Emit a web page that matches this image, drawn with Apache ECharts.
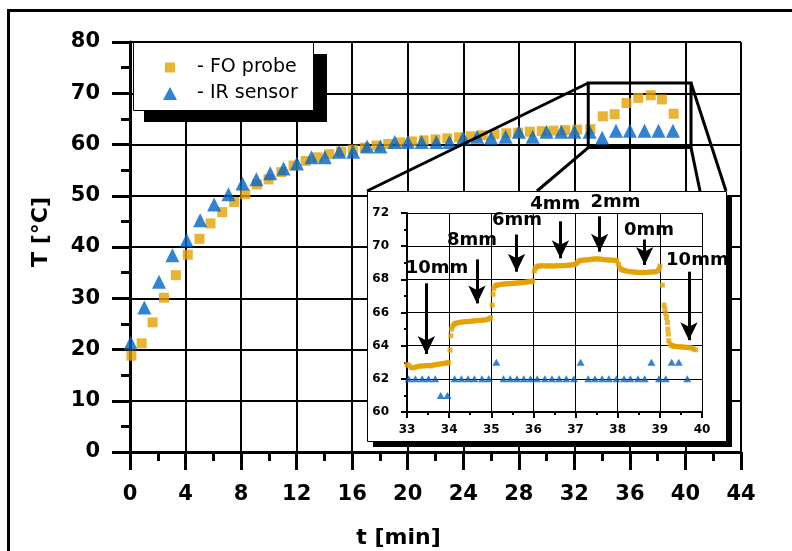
<!DOCTYPE html>
<html>
<head>
<meta charset="utf-8">
<script src="https://cdn.jsdelivr.net/npm/echarts@6/dist/echarts.min.js"></script>
<style>
  html, body { margin: 0; padding: 0; background: #fff; }
  #chart { width: 792px; height: 551px; }
</style>
</head>
<body>
<div id="chart"></div>
<script>
// ---- Heating curve, 0–40 min: fibre-optic probe vs. infrared sensor ----
const foTime = [0.10, 0.84, 1.63, 2.45, 3.30, 4.16, 5.00, 5.80, 6.64, 7.50, 8.30, 9.14, 9.98, 10.90, 11.78,
  12.65, 13.50, 14.35, 15.20, 16.05, 16.90, 17.75, 18.60, 19.45, 20.30, 21.15, 22.00, 22.85, 23.70, 24.55,
  25.40, 26.25, 27.10, 27.95, 28.80, 29.65, 30.50, 31.35, 32.20, 33.15,
  34.05, 34.90, 35.75, 36.60, 37.50, 38.30, 39.15];
const foTemp = [18.8, 21.2, 25.3, 30.1, 34.5, 38.5, 41.6, 44.6, 46.8, 48.8, 50.3, 52.2, 53.2, 54.6, 55.9,
  56.8, 57.5, 58.1, 58.6, 59.0, 59.4, 59.8, 60.1, 60.4, 60.6, 60.8, 61.0, 61.2, 61.4, 61.6,
  61.8, 62.0, 62.2, 62.3, 62.5, 62.6, 62.7, 62.8, 62.9, 63.0,
  65.5, 65.9, 68.1, 69.1, 69.6, 68.8, 66.0];

const irTime = [0.05, 1.03, 2.09, 3.05, 4.08, 5.05, 6.06, 7.09, 8.10, 9.10,
  10.10, 11.06, 12.02, 13.07, 14.03, 15.06, 16.07, 17.07, 18.03, 19.06,
  20.00, 21.00, 22.06, 23.00, 24.00, 25.00, 26.00, 27.05, 28.00, 29.00,
  30.00, 31.06, 32.00, 33.10, 34.00, 35.00, 36.00, 37.05, 38.06, 39.10];
const irTemp = [21.3, 28.2, 33.2, 38.4, 41.3, 45.2, 48.3, 50.3, 52.4, 53.2,
  54.4, 55.3, 56.3, 57.5, 57.5, 58.6, 58.6, 59.6, 59.6, 60.5,
  60.5, 60.5, 60.5, 60.5, 61.3, 61.5, 61.3, 61.5, 62.5, 61.5,
  62.5, 62.5, 62.5, 62.5, 61.3, 62.7, 62.7, 62.7, 62.7, 62.7];

// ---- Detail window 33–40 min: probe readings as [t, T] ----
const foDetail = [
  [33.00, 62.86], [33.05, 62.80], [33.10, 62.68], [33.15, 62.66], [33.20, 62.70], [33.25, 62.74],
  [33.30, 62.76], [33.35, 62.78], [33.40, 62.78], [33.45, 62.80], [33.50, 62.80], [33.55, 62.78],
  [33.60, 62.82], [33.65, 62.84], [33.70, 62.86], [33.75, 62.88], [33.80, 62.90], [33.85, 62.92],
  [33.90, 62.94], [33.95, 62.96], [33.98, 62.98],
  [34.02, 63.73], [34.04, 64.60], [34.06, 65.00], [34.09, 65.20], [34.12, 65.30],
  [34.15, 65.34], [34.20, 65.38], [34.25, 65.40], [34.30, 65.42], [34.35, 65.44], [34.40, 65.45],
  [34.45, 65.46], [34.50, 65.47], [34.55, 65.48], [34.60, 65.50], [34.65, 65.50], [34.70, 65.52],
  [34.75, 65.52], [34.80, 65.54], [34.85, 65.55], [34.90, 65.58], [34.95, 65.62], [34.98, 65.68],
  [35.02, 66.45], [35.04, 67.10], [35.06, 67.45], [35.09, 67.60],
  [35.12, 67.64], [35.15, 67.66], [35.20, 67.68], [35.25, 67.70], [35.30, 67.72], [35.35, 67.72],
  [35.40, 67.74], [35.45, 67.74], [35.50, 67.76], [35.55, 67.76], [35.60, 67.78], [35.65, 67.78],
  [35.70, 67.80], [35.75, 67.80], [35.80, 67.82], [35.85, 67.84], [35.90, 67.86], [35.95, 67.88],
  [35.98, 67.90],
  [36.02, 68.50], [36.05, 68.68], [36.08, 68.76],
  [36.12, 68.80], [36.15, 68.80], [36.20, 68.82], [36.25, 68.82], [36.30, 68.80], [36.35, 68.80],
  [36.40, 68.82], [36.45, 68.80], [36.50, 68.80], [36.55, 68.82], [36.60, 68.84], [36.65, 68.82],
  [36.70, 68.82], [36.75, 68.84], [36.80, 68.84], [36.85, 68.86], [36.90, 68.86], [36.95, 68.90],
  [37.00, 68.92], [37.04, 69.00], [37.08, 69.10],
  [37.12, 69.14], [37.15, 69.15], [37.20, 69.16], [37.25, 69.17], [37.30, 69.18], [37.35, 69.20],
  [37.40, 69.22], [37.45, 69.22], [37.50, 69.24], [37.55, 69.22], [37.60, 69.22], [37.65, 69.20],
  [37.70, 69.18], [37.75, 69.17], [37.80, 69.16], [37.85, 69.16], [37.90, 69.15], [37.95, 69.14],
  [37.98, 69.12],
  [38.02, 68.90], [38.05, 68.70], [38.09, 68.60],
  [38.12, 68.56], [38.15, 68.54], [38.20, 68.50], [38.25, 68.48], [38.30, 68.46], [38.35, 68.45],
  [38.40, 68.44], [38.45, 68.42], [38.50, 68.42], [38.55, 68.42], [38.60, 68.40], [38.65, 68.42],
  [38.70, 68.42], [38.75, 68.44], [38.80, 68.44], [38.85, 68.45], [38.90, 68.46], [38.95, 68.50],
  [38.98, 68.62], [39.00, 68.80],
  [39.06, 67.65], [39.10, 66.45], [39.12, 66.20], [39.14, 65.95], [39.16, 65.70], [39.18, 65.40],
  [39.19, 65.00], [39.20, 64.70], [39.21, 64.30], [39.24, 64.10], [39.28, 64.00],
  [39.32, 63.98], [39.35, 63.96], [39.40, 63.95], [39.45, 63.94], [39.50, 63.92], [39.55, 63.92],
  [39.60, 63.90], [39.65, 63.90], [39.70, 63.88], [39.75, 63.86], [39.80, 63.80], [39.85, 63.75]
];
const irDetailTime = [33.04, 33.20, 33.36, 33.51, 33.67, 33.80, 33.96, 34.13, 34.29, 34.45,
  34.60, 34.78, 34.94, 35.12, 35.29, 35.45, 35.61, 35.77, 35.93, 36.09,
  36.27, 36.44, 36.61, 36.78, 36.96, 37.12, 37.30, 37.46, 37.63, 37.79,
  37.97, 38.15, 38.30, 38.48, 38.64, 38.80, 38.98, 39.14, 39.28, 39.45, 39.65];
const irDetailTemp = [62, 62, 62, 62, 62, 61, 61, 62, 62, 62,
  62, 62, 62, 63, 62, 62, 62, 62, 62, 62,
  62, 62, 62, 62, 62, 63, 62, 62, 62, 62,
  62, 62, 62, 62, 62, 63, 62, 62, 63, 63, 62];

// ---- Probe distance annotations (detail axes units) ----
const distLabels = ['10mm', '8mm', '6mm', '4mm', '2mm', '0mm', '10mm'];
const arrowTime  = [33.46, 34.66, 35.60, 36.64, 37.57, 38.64, 39.69];
const arrowFrom  = [67.76, 69.20, 70.70, 71.50, 71.80, 70.40, 68.46];
const arrowTo    = [63.50, 66.55, 68.46, 69.27, 69.67, 68.87, 64.33];
const labelTime  = [33.71, 34.54, 35.61, 36.52, 37.95, 38.74, 39.89];
const labelTemp  = [68.68, 70.37, 71.58, 72.55, 72.63, 70.98, 69.17];

// ---- Axis ticks ----
const mainXTicks = [0, 4, 8, 12, 16, 20, 24, 28, 32, 36, 40, 44];
const mainYTicks = [0, 10, 20, 30, 40, 50, 60, 70, 80];
const detailXTicks = [33, 34, 35, 36, 37, 38, 39, 40];
const detailYTicks = [60, 62, 64, 66, 68, 70, 72];

// Region of the main plot that the detail window enlarges
const zoomWindow = { t0: 33, t1: 40.4, T0: 59.4, T1: 72 };

const ORANGE = '#E3A000';
const BLUE = '#0064C8';
const FONT = 'DejaVu Sans';
const zip = (a, b) => a.map((v, i) => [v, b[i]]);
const span = t => ({ min: t[0], max: t[t.length - 1], interval: t[1] - t[0] });

const mainGrid = { left: 130, top: 42, width: 611, height: 410 };
const detailGrid = { left: 407, top: 213, width: 295, height: 199 };

const titleFont = { color: '#000', fontFamily: FONT, fontWeight: 'bold', fontSize: 22 };

function mainAxis(ticks, labelMargin, extra) {
  return Object.assign({
    type: 'value', gridIndex: 0, ...span(ticks),
    axisLine: { show: true, onZero: false, lineStyle: { color: '#000', width: 3 } },
    axisTick: { show: true, length: 18, lineStyle: { color: '#000', width: 3 } },
    minorTick: { show: true, splitNumber: 2, length: 9, lineStyle: { color: '#000', width: 3 } },
    splitLine: { show: true, lineStyle: { color: '#000', width: 2 } },
    axisLabel: { color: '#000', fontFamily: FONT, fontWeight: 'bold', fontSize: 21, margin: labelMargin },
    nameLocation: 'middle'
  }, extra);
}
function detailAxis(ticks, labelMargin) {
  return {
    type: 'value', gridIndex: 1, z: 12, ...span(ticks),
    axisLine: { show: true, onZero: false, lineStyle: { color: '#000', width: 2 } },
    axisTick: { show: true, length: 6, lineStyle: { color: '#000', width: 2 } },
    minorTick: { show: true, splitNumber: 2, length: 3, lineStyle: { color: '#000', width: 2 } },
    splitLine: { show: true, lineStyle: { color: '#000', width: 1 } },
    axisLabel: { color: '#000', fontFamily: FONT, fontWeight: 'bold', fontSize: 12, margin: labelMargin }
  };
}

const legendText = { fontFamily: FONT, color: '#000', fontSize: 19 };

const option = {
  animation: false,
  backgroundColor: '#fff',
  textStyle: { fontFamily: FONT },
  grid: [
    Object.assign({ outerBoundsMode: 'none', containLabel: false }, mainGrid),
    Object.assign({ outerBoundsMode: 'none', containLabel: false }, detailGrid)
  ],
  xAxis: [
    mainAxis(mainXTicks, 32, {
      name: 't [min]', nameGap: 75,
      nameTextStyle: Object.assign({ padding: [0, 74, 0, 0] }, titleFont)
    }),
    detailAxis(detailXTicks, 12)
  ],
  yAxis: [
    mainAxis(mainYTicks, 30, {
      name: 'T [°C]', nameGap: 78,
      nameTextStyle: Object.assign({ padding: [0, 0, 0, 30] }, titleFont)
    }),
    detailAxis(detailYTicks, 18)
  ],
  legend: [
    {
      data: [{ name: 'FO probe', icon: 'rect' }],
      left: 165, top: 58, padding: 0, itemWidth: 10, itemHeight: 10,
      selectedMode: false, z: 20, formatter: '- {name}',
      textStyle: Object.assign({ padding: [0, 0, 0, 17] }, legendText)
    },
    {
      data: [{ name: 'IR sensor', icon: 'triangle' }],
      left: 163, top: 84, padding: 0, itemWidth: 14, itemHeight: 13,
      selectedMode: false, z: 20, formatter: '- {name}',
      textStyle: Object.assign({ padding: [0, 0, 0, 15] }, legendText)
    }
  ],
  series: [
    {
      name: 'FO probe', type: 'scatter', xAxisIndex: 0, yAxisIndex: 0,
      data: zip(foTime, foTemp), symbol: 'rect', symbolSize: 10,
      itemStyle: { color: ORANGE }, z: 3, silent: true
    },
    {
      name: 'IR sensor', type: 'scatter', xAxisIndex: 0, yAxisIndex: 0,
      data: zip(irTime, irTemp), symbol: 'triangle', symbolSize: 14,
      itemStyle: { color: BLUE }, z: 4, silent: true
    },
    {
      name: 'FO probe detail', type: 'scatter', xAxisIndex: 1, yAxisIndex: 1,
      data: foDetail, symbol: 'rect', symbolSize: 5,
      itemStyle: { color: ORANGE }, z: 13, silent: true,
      markLine: {
        z: 13, silent: true, animation: false,
        symbol: ['none', 'arrow'], symbolSize: [13, 18],
        lineStyle: { color: '#000', width: 3, type: 'solid' },
        label: { show: false },
        emphasis: { disabled: true },
        data: arrowTime.map((t, i) => [{ coord: [t, arrowFrom[i]] }, { coord: [t, arrowTo[i]] }])
      }
    },
    {
      name: 'IR sensor detail', type: 'scatter', xAxisIndex: 1, yAxisIndex: 1,
      data: zip(irDetailTime, irDetailTemp), symbol: 'triangle', symbolSize: [8, 7],
      itemStyle: { color: BLUE }, z: 13, silent: true
    }
  ]
};

const chart = echarts.init(document.getElementById('chart'), null, { renderer: 'canvas' });
chart.setOption(option);

// Frame, legend panel, detail panel, distance labels and the zoom connectors
const mainPx = v => chart.convertToPixel({ gridIndex: 0 }, v);
const detailPx = v => chart.convertToPixel({ gridIndex: 1 }, v);
const zTL = mainPx([zoomWindow.t0, zoomWindow.T1]);
const zBR = mainPx([zoomWindow.t1, zoomWindow.T0]);

const L = detailGrid.left - 40;
const T = detailGrid.top - 22;
const R = detailGrid.left + detailGrid.width + 24;
const B = detailGrid.top + detailGrid.height + 29;
const off = 6;

const stroke = { stroke: '#000', lineWidth: 3, fill: 'none' };
const connector = (x1, y1, x2, y2) => ({
  type: 'line', z: 10, silent: true,
  shape: { x1, y1, x2, y2 }, style: { stroke: '#000', lineWidth: 3 }
});
const distText = distLabels.map((txt, i) => {
  const p = detailPx([labelTime[i], labelTemp[i]]);
  return {
    type: 'text', z: 13, silent: true, x: p[0], y: p[1],
    style: {
      text: txt, fill: '#000', font: 'bold 18px "DejaVu Sans"',
      align: 'center', verticalAlign: 'middle'
    }
  };
});

chart.setOption({
  graphic: {
    elements: [
      { type: 'rect', z: 1, silent: true, shape: { x: 8.5, y: 10.5, width: 1200, height: 1200 }, style: stroke },
      // legend panel with offset shadow
      { type: 'rect', z: 9, silent: true, shape: { x: 144, y: 54, width: 183, height: 68 }, style: { fill: '#000' } },
      { type: 'rect', z: 10, silent: true, shape: { x: 133.5, y: 42.5, width: 180, height: 68 }, style: { fill: '#fff', stroke: '#000', lineWidth: 1 } },
      // detail panel
      { type: 'rect', z: 10, silent: true, shape: { x: L + 0.5, y: T + 0.5, width: R - L, height: B - T }, style: { fill: '#fff', stroke: '#000', lineWidth: 1 } },
      { type: 'polygon', z: 14, silent: true,
        shape: { points: [[R, T + off], [R + off, T + off], [R + off, B + off], [L + off, B + off], [L + off, B], [R, B]] },
        style: { fill: '#000' } },
      // zoomed region on the main plot
      { type: 'rect', z: 10, silent: true,
        shape: { x: zTL[0], y: zTL[1], width: zBR[0] - zTL[0], height: zBR[1] - zTL[1] }, style: stroke },
      connector(zTL[0], zTL[1], L, T),
      connector(zTL[0], zBR[1], L + 170, T),
      connector(zBR[0], zTL[1], R, T),
      connector(zBR[0], zBR[1], R - 26, T)
    ].concat(distText)
  }
});
</script>
</body>
</html>
